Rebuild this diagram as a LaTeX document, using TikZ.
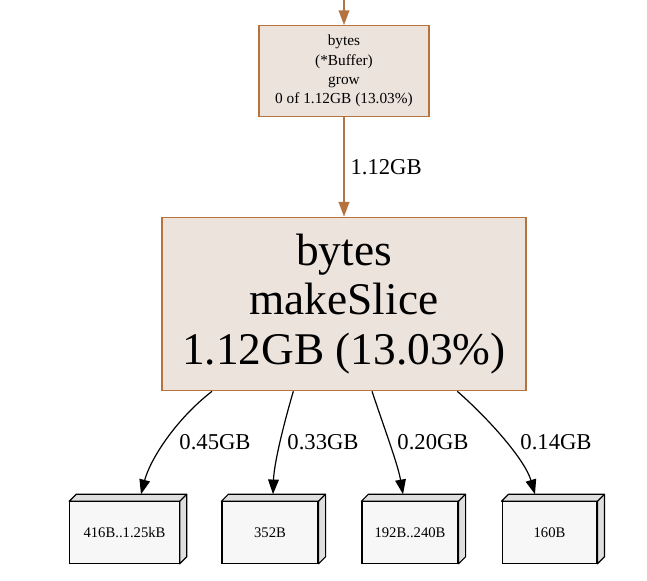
\documentclass[tikz,border=0pt]{standalone}
\usepackage{fontspec}
\setmainfont{Liberation Serif}
\usetikzlibrary{arrows.meta,positioning}
\definecolor{boxfill}{HTML}{EDE3DD}
\definecolor{boxline}{HTML}{B5733F}
\definecolor{leaffill}{HTML}{F7F7F7}

\begin{document}
\begin{tikzpicture}[x=0.75pt,y=-0.75pt,
    func/.style={rectangle, draw=boxline, fill=boxfill, line width=1pt, align=center, inner sep=0pt},
    leaf/.style={rectangle, draw, fill=leaffill, line width=0.9pt, minimum height=46pt, inner sep=0pt, font=\fontsize{11}{13}\selectfont},
    hot/.style={-{Triangle[length=11pt,width=8pt]}, draw=boxline, line width=1.1pt},
    cold/.style={-{Triangle[length=11pt,width=8pt]}, line width=0.9pt},
    lbl/.style={font=\fontsize{17}{19}\selectfont}
]
\useasboundingbox (0,0) rectangle (647,581);

\node[func, minimum width=127.5pt, minimum height=68pt, font=\fontsize{11.5}{14.5}\selectfont] (grow) at (344,71)
    {bytes\\(*Buffer)\\grow\\0 of 1.12GB (13.03\%)};
\node[func, minimum width=273pt, minimum height=130pt, font=\fontsize{34}{37}\selectfont] (make) at (344,304)
    {bytes\\makeSlice\\1.12GB (13.03\%)};
\coordinate (in) at (344,0);

\draw[hot] (in) -- (grow);
\draw[hot] (grow) -- node[lbl, right, xshift=1pt] {1.12GB} (make);

% leaves with 3d faces
\foreach \name/\x/\w/\txt in {a/124.5/82pt/416B..1.25kB, b/270/72pt/352B, c/410/72pt/192B..240B, d/549.5/71pt/160B} {
  \node[leaf, minimum width=\w] (\name) at (\x,532.5) {\txt};
  \draw[line width=0.9pt, fill=leaffill!80!gray, line join=round] (\name.north west) -- ++(7,-7) -- ([shift={(7,-7)}]\name.north east)
    -- ([shift={(7,-7)}]\name.south east) -- (\name.south east) -- (\name.north east) -- cycle;
  \draw[line width=0.9pt] (\name.north east) -- ++(7,-7);
}

\draw[cold] ([xshift=-99pt]make.south) .. controls (175,420) and (150,460) .. ([shift={(16.5,-7)}]a.north);
\node[lbl] at (215,442) {0.45GB};
\draw[cold] ([xshift=-38pt]make.south) .. controls (282,430) and (274,465) .. ([shift={(3,-7)}]b.north);
\node[lbl] at (323,442) {0.33GB};
\draw[cold] ([xshift=21pt]make.south) .. controls (385,430) and (398,465) .. ([shift={(-7,-7)}]c.north);
\node[lbl] at (433,442) {0.20GB};
\draw[cold] ([xshift=85pt]make.south) .. controls (490,420) and (525,460) .. ([shift={(-14.5,-7)}]d.north);
\node[lbl] at (556,442) {0.14GB};
\end{tikzpicture}
\end{document}
